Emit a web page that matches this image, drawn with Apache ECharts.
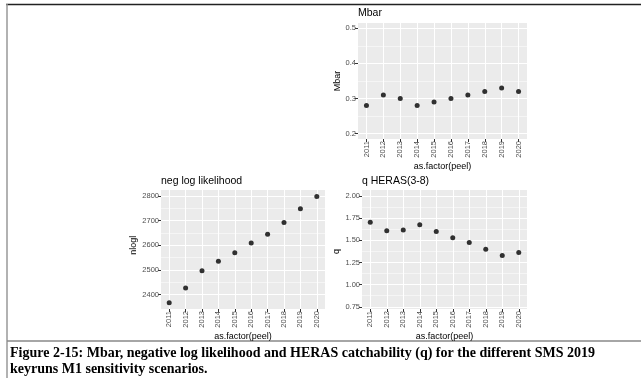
<!DOCTYPE html>
<html>
<head>
<meta charset="utf-8">
<script src="https://cdn.jsdelivr.net/npm/echarts@6/dist/echarts.min.js"></script>
<style>
  html, body { margin: 0; padding: 0; background: #fff; }
  #chart { width: 641px; height: 378px; }
</style>
</head>
<body>
<div id="chart"></div>
<script>
// ---- data ----
const years = ['2011', '2012', '2013', '2014', '2015', '2016', '2017', '2018', '2019', '2020'];
const mbar = [0.28, 0.31, 0.30, 0.28, 0.29, 0.30, 0.31, 0.32, 0.33, 0.32];
const nlogl = [2367, 2427, 2497, 2535, 2570, 2609, 2645, 2692, 2748, 2798];
const qHeras = [1.705, 1.609, 1.617, 1.677, 1.602, 1.530, 1.477, 1.401, 1.330, 1.364];

const mbarTicks = [0.2, 0.3, 0.4, 0.5];
const nloglTicks = [2400, 2500, 2600, 2700, 2800];
const qTicks = [0.75, 1.00, 1.25, 1.50, 1.75, 2.00];

const panelTitles = ['Mbar', 'neg log likelihood', 'q HERAS(3-8)'];
const yNames = ['Mbar', 'nlogl', 'q'];
const xName = 'as.factor(peel)';
const captionLines = [
  'Figure 2-15: Mbar, negative log likelihood and HERAS catchability (q) for the different SMS 2019',
  'keyruns M1 sensitivity scenarios.'
];

// ---- layout (styling only) ----
const panels = [
  { data: mbar, ticks: mbarTicks, range: [0.185, 0.515], digits: 1, box: { left: 358, top: 23, width: 169, height: 116 }, xGap: 19, yGap: 16, titleOff: 15 },
  { data: nlogl, ticks: nloglTicks, range: [2342, 2824], digits: 0, box: { left: 161, top: 190, width: 164, height: 119 }, xGap: 19, yGap: 17, titleOff: 14 },
  { data: qHeras, ticks: qTicks, range: [0.725, 2.07], digits: 2, box: { left: 362, top: 190, width: 165, height: 119 }, xGap: 19, yGap: 20, titleOff: 14 }
];

const FONT = 'Liberation Sans, Arial, sans-serif';
const grids = [], xAxes = [], yAxes = [], series = [], titles = [];
const tickColor = '#333333', labelColor = '#4D4D4D';

panels.forEach((p, i) => {
  const b = p.box;
  const tMin = p.ticks[0], tMax = p.ticks[p.ticks.length - 1];
  const step = Math.round((p.ticks[1] - p.ticks[0]) * 1e6) / 1e6;
  const span = p.range[1] - p.range[0];
  const innerTop = b.top + (p.range[1] - tMax) / span * b.height;
  const innerH = (tMax - tMin) / span * b.height;
  const outerIdx = grids.length;
  grids.push({ left: b.left, top: b.top, width: b.width, height: b.height, show: true,
    backgroundColor: '#EBEBEB', borderWidth: 0, containLabel: false });
  const innerIdx = grids.length;
  grids.push({ left: b.left, top: innerTop, width: b.width, height: innerH, show: false, containLabel: false });

  xAxes.push({
    type: 'category', gridIndex: outerIdx, data: years, boundaryGap: true,
    axisLine: { show: false },
    axisTick: { show: true, alignWithLabel: true, length: 3, lineStyle: { color: tickColor, width: 1 } },
    axisLabel: { rotate: 90, fontSize: 7.5, color: labelColor, margin: 2, fontFamily: FONT, interval: 0 },
    splitLine: { show: true, alignWithLabel: true, lineStyle: { color: '#ffffff', width: 1 } },
    name: xName, nameLocation: 'middle', nameGap: p.xGap,
    nameTextStyle: { fontSize: 9, color: '#000', fontFamily: FONT }
  });
  yAxes.push({ type: 'value', gridIndex: outerIdx, show: false, min: 0, max: 1, splitLine: { show: false } });

  xAxes.push({ type: 'category', gridIndex: innerIdx, data: years, boundaryGap: true, show: false });
  yAxes.push({
    type: 'value', gridIndex: innerIdx, min: tMin, max: tMax, interval: step,
    axisLine: { show: false },
    axisTick: { show: true, length: 3, lineStyle: { color: tickColor, width: 1 } },
    axisLabel: { fontSize: 7.5, color: labelColor, margin: 2, fontFamily: FONT,
      formatter: v => Number(v).toFixed(p.digits) },
    splitLine: { show: true, lineStyle: { color: '#ffffff', width: 1 } },
    minorTick: { show: false, splitNumber: 2 },
    minorSplitLine: { show: true, lineStyle: { color: '#ffffff', width: 0.5 } },
    name: yNames[i], nameLocation: 'middle', nameGap: p.yGap, nameRotate: 90,
    nameTextStyle: { fontSize: 9, color: '#000', fontFamily: FONT }
  });

  series.push({
    type: 'scatter', xAxisIndex: innerIdx, yAxisIndex: innerIdx, clip: false,
    data: p.data, symbolSize: 5, itemStyle: { color: '#000' }, silent: true, animation: false
  });

  titles.push({
    text: panelTitles[i], left: b.left, top: b.top - p.titleOff, padding: 0,
    textStyle: { fontSize: 10.5, fontWeight: 'normal', color: '#000', fontFamily: FONT }
  });
});

const chart = echarts.init(document.getElementById('chart'), null, { renderer: 'canvas' });
chart.setOption({
  animation: false,
  backgroundColor: '#ffffff',
  title: titles,
  grid: grids,
  xAxis: xAxes,
  yAxis: yAxes,
  series: series,
  graphic: [
    { type: 'line', shape: { x1: 6, y1: 4.5, x2: 641, y2: 4.5 }, style: { stroke: '#222', lineWidth: 1.5 }, silent: true },
    { type: 'line', shape: { x1: 7, y1: 4, x2: 7, y2: 378 }, style: { stroke: '#999', lineWidth: 1.5 }, silent: true },
    { type: 'line', shape: { x1: 7, y1: 341, x2: 641, y2: 341 }, style: { stroke: '#888', lineWidth: 1.5 }, silent: true },
    { type: 'text', x: 10, y: 353, style: { text: captionLines[0], fill: '#000', font: 'bold 14px "Liberation Serif", "Times New Roman", serif', verticalAlign: 'middle' }, silent: true },
    { type: 'text', x: 10, y: 369, style: { text: captionLines[1], fill: '#000', font: 'bold 14px "Liberation Serif", "Times New Roman", serif', verticalAlign: 'middle' }, silent: true }
  ]
});
</script>
</body>
</html>
